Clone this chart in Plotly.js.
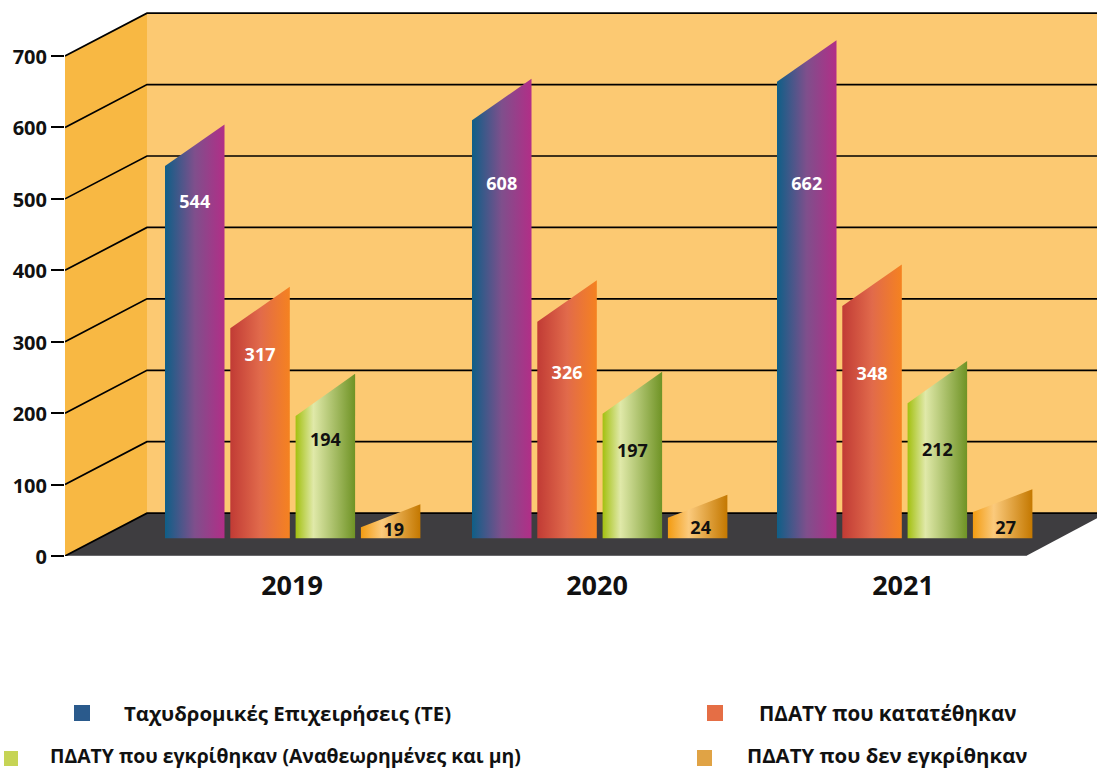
<!DOCTYPE html>
<html>
<head>
<meta charset="utf-8">
<script src="https://cdn.plot.ly/plotly-3.0.1.min.js"></script>
<style>html,body{margin:0;padding:0;background:#fff}#chart{width:1097px;height:770px}</style>
</head>
<body>
<div id="chart"></div>
<script>
// ---- data ----
const years = ['2019', '2020', '2021'];
const seriesNames = [
  'Ταχυδρομικές Επιχειρήσεις (ΤΕ)',
  'ΠΔΑΤΥ που κατατέθηκαν',
  'ΠΔΑΤΥ που εγκρίθηκαν (Αναθεωρημένες και μη)',
  'ΠΔΑΤΥ που δεν εγκρίθηκαν'
];
const postalCompanies = [544, 608, 662];
const submitted = [317, 326, 348];
const approved = [194, 197, 212];
const rejected = [19, 24, 27];
const yTicks = [0, 100, 200, 300, 400, 500, 600, 700];

// ---- drawing geometry and styles ----
const FONT = '"Open Sans", "Noto Sans", sans-serif';
const seriesValues = [postalCompanies, submitted, approved, rejected];
const gradients = [
  [[0, '#0f5f87'], [0.5, '#7f4f8c'], [1, '#b22e87']],
  [[0, '#c13b35'], [0.5, '#e16a4b'], [1, '#f58220']],
  [[0, '#a3c010'], [0.3, '#e0e9a9'], [1, '#6f9325']],
  [[0, '#f39c12'], [0.35, '#fbca7c'], [1, '#c47800']]
];
const swatches = ['#2a5a8c', '#e56e45', '#c6d455', '#e0a345'];
const groupLeft = [165, 472, 777];
const yearCentres = [292, 597, 903];
const slot = 65.3, barWidth = 59.5;
const floorDepth = 60, barFrontBase = 25;
const sideDepth = [58, 58, 59, 32];
// In the picture the very short bars stand on the raised floor line, so their front edge is lifted
const frontTop = (s, v) => s === 3 ? 2.65 * v - 10 : v + 2;
// Where each value label sits below its bar top, per series and year (axis units)
const labelDrop = [[51, 89, 143], [37, 72, 95], [34, 52, 66], [0, 0, 0]];
const labelX = [0, 0, 0, 3];
const labelAbsolute = [34, 37, 37];
const labelColor = ['#ffffff', '#ffffff', '#111111', '#111111'];

const traces = [];

// 3D grid lines across the side wall and the back wall
const gx = [], gy = [];
yTicks.forEach(t => {
  gx.push(65, 147, 1097, null);
  gy.push(t, t + floorDepth, t + floorDepth, null);
});
traces.push({x: gx, y: gy, mode: 'lines', line: {color: '#000', width: 1.7}, hoverinfo: 'skip', showlegend: false});

// bars
seriesValues.forEach((vals, s) => {
  vals.forEach((v, g) => {
    const l = groupLeft[g] + s * slot, r = l + barWidth, top = frontTop(s, v);
    traces.push({
      x: [l, l, r, r, l],
      y: [barFrontBase, top, top + sideDepth[s], barFrontBase, barFrontBase],
      mode: 'lines', fill: 'toself', line: {width: 0, color: 'rgba(0,0,0,0)'},
      fillgradient: {type: 'horizontal', colorscale: gradients[s]},
      hoverinfo: 'skip', showlegend: false
    });
  });
});

// value labels
seriesValues.forEach((vals, s) => {
  traces.push({
    x: vals.map((v, g) => groupLeft[g] + s * slot + barWidth / 2 + labelX[s]),
    y: vals.map((v, g) => s === 3 ? labelAbsolute[g] : v - labelDrop[s][g]),
    text: vals.map(String), mode: 'text', textposition: 'middle center',
    textfont: {family: FONT, size: 18, color: labelColor[s], weight: 700},
    hoverinfo: 'skip', showlegend: false
  });
});

// legend (placed by hand, as in the picture)
const PX = x => (x - 65) / 1032;
const PY = y => (556 - y) / 556;
const swatchBox = [[74, 90, 705, 721], [707, 723, 705, 721], [4, 18, 751, 766], [697, 712, 750, 766]];
const legendTextX = [287, 887.5, 285, 886.5];
const legendTextY = [713, 713, 755.5, 755.5];
const legendSize = [20.4, 20.6, 19.4, 20.4];

const poly = (pts, fill) => ({
  type: 'path', layer: 'below', xref: 'x', yref: 'y',
  path: 'M' + pts.map(p => p.join(',')).join('L') + 'Z',
  fillcolor: fill, line: {width: 0}
});

const layout = {
  width: 1097, height: 770,
  margin: {l: 65, r: 0, t: 0, b: 214, pad: 0},
  paper_bgcolor: '#fff', plot_bgcolor: '#fff',
  showlegend: false,
  xaxis: {
    range: [65, 1097], tickmode: 'array', tickvals: yearCentres, ticktext: years,
    showgrid: false, zeroline: false, showline: false, ticks: '',
    tickfont: {family: FONT, size: 27, color: '#111', weight: 700},
    ticklabelstandoff: 11, fixedrange: true
  },
  yaxis: {
    range: [0, 778.4], tickmode: 'array', tickvals: yTicks, ticktext: yTicks.map(String),
    showgrid: false, zeroline: false, showline: false,
    ticks: 'outside', ticklen: 13, tickwidth: 2, tickcolor: '#000',
    tickfont: {family: FONT, size: 20, color: '#111', weight: 700},
    ticklabelshift: 1, fixedrange: true
  },
  shapes: [
    poly([[147, floorDepth], [1097, floorDepth], [1097, 700 + floorDepth], [147, 700 + floorDepth]], '#fcc972'),
    poly([[65, 0], [147, floorDepth], [147, 700 + floorDepth], [65, 700]], '#f8b843'),
    poly([[65, 0], [147, floorDepth], [1097, floorDepth], [1097, 53], [1026, 0]], '#3e3d40'),
    {type: 'line', layer: 'below', xref: 'x', yref: 'y', x0: 65, x1: 1026, y0: 0, y1: 0, line: {color: '#77777a', width: 1.5}}
  ].concat(swatchBox.map((b, s) => ({
    type: 'rect', xref: 'paper', yref: 'paper', x0: PX(b[0]), x1: PX(b[1]), y0: PY(b[3]), y1: PY(b[2]),
    fillcolor: swatches[s], line: {width: 0}
  }))),
  annotations: seriesNames.map((n, s) => ({
    text: n, xref: 'x', yref: 'paper', x: legendTextX[s], y: PY(legendTextY[s]),
    xanchor: 'center', yanchor: 'middle', showarrow: false, borderpad: 0,
    font: {family: FONT, size: legendSize[s], color: '#111', weight: 700}
  }))
};

Plotly.newPlot('chart', traces, layout, {displayModeBar: false, responsive: false});
</script>
</body>
</html>
